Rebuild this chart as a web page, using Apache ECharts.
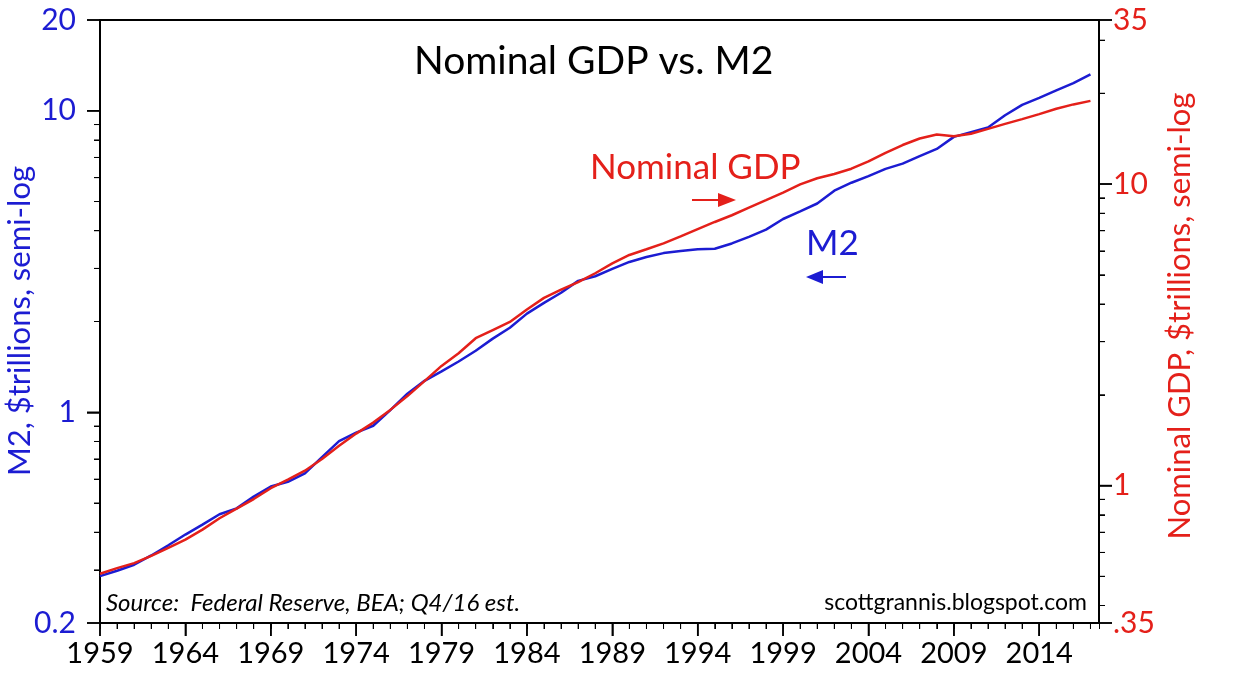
<!DOCTYPE html>
<html>
<head>
<meta charset="utf-8">
<script src="https://cdn.jsdelivr.net/npm/echarts@6/dist/echarts.min.js"></script>
<style>
  html, body { margin: 0; padding: 0; background: #fff; }
  #chart { width: 1242px; height: 682px; background: #fff; }
</style>
</head>
<body>
<div id="chart"></div>
<script>
// year-start points, 1959 .. 2017 (last = Q4/16 est.)
var years = [];
for (var y = 1959; y <= 2017; y++) years.push(y);

// M2, $trillions
var m2 = [
  0.286, 0.298, 0.312, 0.335, 0.362, 0.393, 0.424, 0.459, 0.480, 0.525,
  0.567, 0.588, 0.627, 0.710, 0.802, 0.856, 0.902, 1.017, 1.152, 1.271,
  1.367, 1.474, 1.600, 1.755, 1.906, 2.124, 2.306, 2.492, 2.728, 2.826,
  2.988, 3.152, 3.272, 3.372, 3.424, 3.474, 3.486, 3.630, 3.819, 4.033,
  4.375, 4.638, 4.925, 5.433, 5.772, 6.067, 6.418, 6.681, 7.071, 7.471,
  8.192, 8.496, 8.801, 9.660, 10.459, 11.035, 11.684, 12.346, 13.20
];

// Nominal GDP, $trillions
var gdp = [
  0.510, 0.532, 0.553, 0.584, 0.621, 0.662, 0.714, 0.779, 0.838, 0.902,
  0.980, 1.047, 1.120, 1.224, 1.354, 1.487, 1.617, 1.782, 1.980, 2.219,
  2.493, 2.747, 3.080, 3.278, 3.488, 3.838, 4.193, 4.468, 4.729, 5.060,
  5.453, 5.817, 6.076, 6.355, 6.707, 7.091, 7.485, 7.880, 8.353, 8.846,
  9.371, 9.970, 10.454, 10.798, 11.242, 11.886, 12.679, 13.472, 14.163, 14.600,
  14.400, 14.690, 15.240, 15.835, 16.420, 17.056, 17.773, 18.370, 18.870
];

// axis ticks / labels
var xMajor = [1959, 1964, 1969, 1974, 1979, 1984, 1989, 1994, 1999, 2004, 2009, 2014];
var leftMajor = [0.2, 1, 10, 20];
var leftMinor = [0.3, 0.4, 0.5, 0.6, 0.7, 0.8, 0.9, 2, 3, 4, 5, 6, 7, 8, 9];
var rightMajor = [0.35, 1, 10, 35];
var rightMinor = [0.4, 0.5, 0.6, 0.7, 0.8, 0.9, 2, 3, 4, 5, 6, 7, 8, 9, 20, 30];

var X_MIN = 1959, X_MAX = 2017.5;
var BLUE = '#1c1cd2';
var RED = '#e4201a';
var FONT = 'Lato';

function pairs(xs, vs) {
  return xs.map(function (x, i) { return [x, vs[i]]; });
}

var tickLine = { color: '#000', width: 1.5 };
var minorLine = { color: '#000', width: 1 };

// tick marks placed through the axes' scales, as a fallback to axisTick
function tickSeries(yIndex, dir, data, majors, isX) {
  return {
    type: 'custom', xAxisIndex: 0, yAxisIndex: yIndex, clip: false, silent: true, z: 5,
    data: data,
    renderItem: function (params, api) {
      var p = api.coord([api.value(0), api.value(1)]);
      var v = isX ? api.value(0) : api.value(1);
      var major = majors.indexOf(v) >= 0;
      var len = major ? 13 : 6;
      var shape = isX
        ? { x1: p[0], y1: p[1], x2: p[0], y2: p[1] + len }
        : { x1: p[0], y1: p[1], x2: p[0] + dir * len, y2: p[1] };
      return { type: 'line', shape: shape, style: { stroke: '#000', lineWidth: major ? 1.5 : 1 } };
    }
  };
}

var chart = echarts.init(document.getElementById('chart'));

var option = {
  animation: false,
  grid: { left: 100, right: 143, top: 20, bottom: 59, outerBoundsMode: 'none' },
  xAxis: [{
    type: 'value', min: X_MIN, max: X_MAX, position: 'bottom',
    axisLine: { show: true, onZero: false, lineStyle: { color: '#000', width: 2 } },
    axisTick: { show: true, customValues: xMajor, length: 13, lineStyle: tickLine },
    axisLabel: {
      customValues: xMajor, color: '#000', fontSize: 29, margin: 16, fontFamily: FONT,
      formatter: function (v) { return String(v); }
    },
    splitLine: { show: false }
  }, {
    // top frame line
    type: 'value', min: X_MIN, max: X_MAX, position: 'top',
    axisLine: { show: true, onZero: false, lineStyle: { color: '#000', width: 2 } },
    axisTick: { show: false }, axisLabel: { show: false }, splitLine: { show: false }
  }, {
    // yearly minor ticks
    type: 'value', min: X_MIN, max: X_MAX, interval: 1, position: 'bottom',
    axisLine: { show: false, onZero: false },
    axisTick: { show: true, length: 6, lineStyle: minorLine },
    axisLabel: { show: false }, splitLine: { show: false }
  }],
  yAxis: [{
    type: 'log', logBase: 10, min: 0.2, max: 20, position: 'left',
    axisLine: { show: true, onZero: false, lineStyle: { color: '#000', width: 2 } },
    axisTick: { show: true, customValues: leftMajor, length: 13, lineStyle: tickLine },
    axisLabel: { customValues: leftMajor, color: BLUE, fontSize: 30, margin: 24, fontFamily: FONT },
    splitLine: { show: false }
  }, {
    type: 'log', logBase: 10, min: 0.35, max: 35, position: 'right',
    axisLine: { show: true, onZero: false, lineStyle: { color: '#000', width: 2 } },
    axisTick: { show: true, customValues: rightMajor, length: 13, lineStyle: tickLine },
    axisLabel: {
      customValues: rightMajor, color: RED, fontSize: 30, margin: 14, fontFamily: FONT,
      formatter: function (v) { return v < 0.5 ? '.35' : String(Math.round(v)); }
    },
    splitLine: { show: false }
  }, {
    type: 'log', logBase: 10, min: 0.2, max: 20, position: 'left',
    axisLine: { show: false, onZero: false },
    axisTick: { show: true, customValues: leftMinor, length: 6, lineStyle: minorLine },
    axisLabel: { show: false }, splitLine: { show: false }
  }, {
    type: 'log', logBase: 10, min: 0.35, max: 35, position: 'right',
    axisLine: { show: false, onZero: false },
    axisTick: { show: true, customValues: rightMinor, length: 6, lineStyle: minorLine },
    axisLabel: { show: false }, splitLine: { show: false }
  }],
  series: [{
    name: 'M2', type: 'line', xAxisIndex: 0, yAxisIndex: 0,
    data: pairs(years, m2), showSymbol: false,
    lineStyle: { color: BLUE, width: 2.5 }, z: 3
  }, {
    name: 'Nominal GDP', type: 'line', xAxisIndex: 0, yAxisIndex: 1,
    data: pairs(years, gdp), showSymbol: false,
    lineStyle: { color: RED, width: 2.5 }, z: 4
  },
    tickSeries(0, 0, years.map(function (yr) { return [yr, 0.2]; }), xMajor, true),
    tickSeries(0, -1, leftMajor.concat(leftMinor).map(function (v) { return [X_MIN, v]; }), leftMajor, false),
    tickSeries(1, 1, rightMajor.concat(rightMinor).map(function (v) { return [X_MAX, v]; }), rightMajor, false)
  ],
  graphic: [
    { type: 'text', x: 20, y: 321, rotation: Math.PI / 2,
      style: { text: 'M2, $trillions, semi-log', fill: BLUE, font: '31px Lato', align: 'center', verticalAlign: 'middle' } },
    { type: 'text', x: 1180, y: 316, rotation: Math.PI / 2,
      style: { text: 'Nominal GDP, $trillions, semi-log', fill: RED, font: '31px Lato', align: 'center', verticalAlign: 'middle' } },
    { type: 'text', x: 414, y: 42, style: { text: 'Nominal GDP vs. M2', fill: '#000', font: '39px Lato' } },
    { type: 'text', x: 590, y: 150, style: { text: 'Nominal GDP', fill: RED, font: '35px Lato' } },
    { type: 'line', shape: { x1: 692, y1: 200, x2: 720, y2: 200 }, style: { stroke: RED, lineWidth: 2 } },
    { type: 'polygon', shape: { points: [[718, 193], [736, 200], [718, 207]] }, style: { fill: RED } },
    { type: 'text', x: 806, y: 226, style: { text: 'M2', fill: BLUE, font: '35px Lato' } },
    { type: 'line', shape: { x1: 820, y1: 277, x2: 846, y2: 277 }, style: { stroke: BLUE, lineWidth: 2 } },
    { type: 'polygon', shape: { points: [[823, 270], [806, 277], [823, 284]] }, style: { fill: BLUE } },
    { type: 'text', x: 106, y: 591, style: { text: 'Source:  Federal Reserve, BEA; Q4/16 est.', fill: '#000', font: 'italic 24px Lato' } },
    { type: 'text', x: 1087, y: 591, style: { text: 'scottgrannis.blogspot.com', fill: '#000', font: '23px Lato', align: 'right' } }
  ]
};

chart.setOption(option);
</script>
</body>
</html>
